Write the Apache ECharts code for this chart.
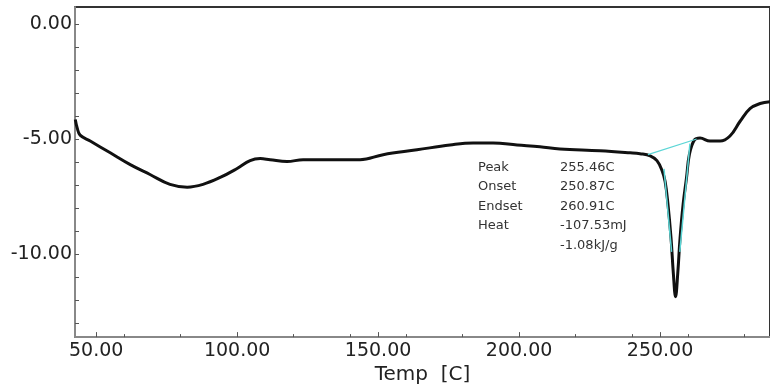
<!DOCTYPE html>
<html lang="en">
<head>
  <meta charset="UTF-8">
  <title>DSC curve</title>
  <script src="https://cdn.jsdelivr.net/npm/echarts@6.0.0/dist/echarts.min.js"></script>
  <style>
    html, body { margin: 0; padding: 0; background: #fff; }
  </style>
</head>
<body>
  <div id="chart" style="width: 770px; height: 390px;"></div>

  <script>
    // temperature [C] and heat flow
    const temp = [42.6, 43.3, 44.3, 47.9, 55.0, 62.1, 69.1, 76.2, 82.3, 87.9, 94.0, 100.0,
      104.6, 108.2, 111.7, 117.7, 123.4, 143.6, 151.8, 163.8, 175.5, 183.7, 190.8, 199.3,
      207.4, 214.5, 228.7, 239.4, 242.9, 246.5, 248.9, 250.7, 251.8, 252.8, 253.9, 254.7,
      255.5, 256.3, 257.1, 258.2, 259.4, 260.4, 262.2, 264.2, 267.7, 271.3, 274.8, 278.4,
      281.9, 285.5, 289.0]
    const heatFlow = [-4.15, -4.53, -4.83, -5.09, -5.60, -6.11, -6.54, -6.97, -7.09, -6.97, -6.67, -6.28,
      -5.94, -5.85, -5.90, -5.98, -5.90, -5.90, -5.68, -5.47, -5.26, -5.17, -5.17, -5.26,
      -5.34, -5.43, -5.51, -5.60, -5.64, -5.73, -5.94, -6.37, -6.85, -7.82, -9.3, -10.8,
      -11.85, -10.8, -9.3, -7.82, -6.67, -5.68, -5.04, -4.96, -5.09, -5.09, -4.87, -4.23,
      -3.68, -3.46, -3.38]

    // analysis lines (baseline and tangents)
    const baseX = [245.7, 263.0]
    const baseY = [-5.68, -5.00]
    const onsetX = [251.4, 254.1]
    const onsetY = [-6.3, -9.9]
    const endsetX = [260.6, 257.0]
    const endsetY = [-5.2, -9.9]

    // axis ticks
    const xLabels = [50, 100, 150, 200, 250]
    const xMinor = [60, 80, 120, 140, 160, 180, 220, 240, 260, 280]
    const yLabels = [0, -5, -10]
    const yMinor = [0, -1, -2, -3, -4, -5, -6, -7, -8, -9, -10, -11, -12, -13]

    // result table
    const resultNames = ['Peak', 'Onset', 'Endset', 'Heat', '']
    const resultValues = ['255.46C', '250.87C', '260.91C', '-107.53mJ', '-1.08kJ/g']

    const zip = (xs, ys) => xs.map((x, i) => [x, ys[i]])

    const font = 'DejaVu Sans'
    const textItems = []
    resultNames.forEach((name, i) => {
      textItems.push({ type: 'text', left: 478, top: 161 + i * 19.5,
        style: { text: name, font: '13px ' + font, fill: '#333' } })
      textItems.push({ type: 'text', left: 560, top: 161 + i * 19.5,
        style: { text: resultValues[i], font: '13px ' + font, fill: '#333' } })
    })

    const chart = echarts.init(document.getElementById('chart'), null, { renderer: 'canvas' })
    chart.setOption({
      animation: false,
      grid: {
        left: 75, right: 0, top: 7, bottom: 48,
        show: true, borderColor: '#333', borderWidth: 2, backgroundColor: '#fff'
      },
      xAxis: [{
        type: 'value', min: 42.5, max: 289,
        name: 'Temp  [C]', nameLocation: 'middle', nameGap: 25,
        nameTextStyle: { fontFamily: font, fontSize: 20, color: '#222' },
        splitLine: { show: false },
        axisLine: { onZero: false, lineStyle: { color: '#888', width: 2 } },
        axisTick: { inside: true, length: 5, lineStyle: { color: '#555' }, customValues: xLabels },
        axisLabel: {
          customValues: xLabels, margin: 4,
          fontFamily: font, fontSize: 19, color: '#222',
          formatter: v => v.toFixed(2)
        }
      }, {
        type: 'value', min: 42.5, max: 289, position: 'bottom',
        splitLine: { show: false },
        axisLine: { show: false, onZero: false },
        axisTick: { inside: true, length: 3, lineStyle: { color: '#555' }, customValues: xMinor },
        axisLabel: { show: false }
      }],
      yAxis: {
        type: 'value', min: -13.6, max: 0.73,
        splitLine: { show: false },
        axisLine: { show: true, onZero: false, lineStyle: { color: '#888', width: 2 } },
        axisTick: { show: true, inside: true, length: 4, lineStyle: { color: '#555' }, customValues: yMinor },
        axisLabel: {
          customValues: yLabels, margin: 3,
          fontFamily: font, fontSize: 19, color: '#222',
          formatter: v => v.toFixed(2)
        }
      },
      graphic: textItems,
      series: [{
        type: 'line',
        data: zip(temp, heatFlow),
        showSymbol: false,
        smooth: 0.4,
        lineStyle: { color: '#111', width: 3 },
        z: 3
      }, {
        type: 'line',
        data: zip(baseX, baseY),
        showSymbol: false,
        lineStyle: { color: '#5cd6d6', width: 1.2 },
        z: 4
      }, {
        type: 'line',
        data: zip(onsetX, onsetY),
        showSymbol: false,
        lineStyle: { color: '#5cd6d6', width: 1.5 },
        z: 4
      }, {
        type: 'line',
        data: zip(endsetX, endsetY),
        showSymbol: false,
        lineStyle: { color: '#5cd6d6', width: 1.5 },
        z: 4
      }]
    })
  </script>
</body>
</html>
